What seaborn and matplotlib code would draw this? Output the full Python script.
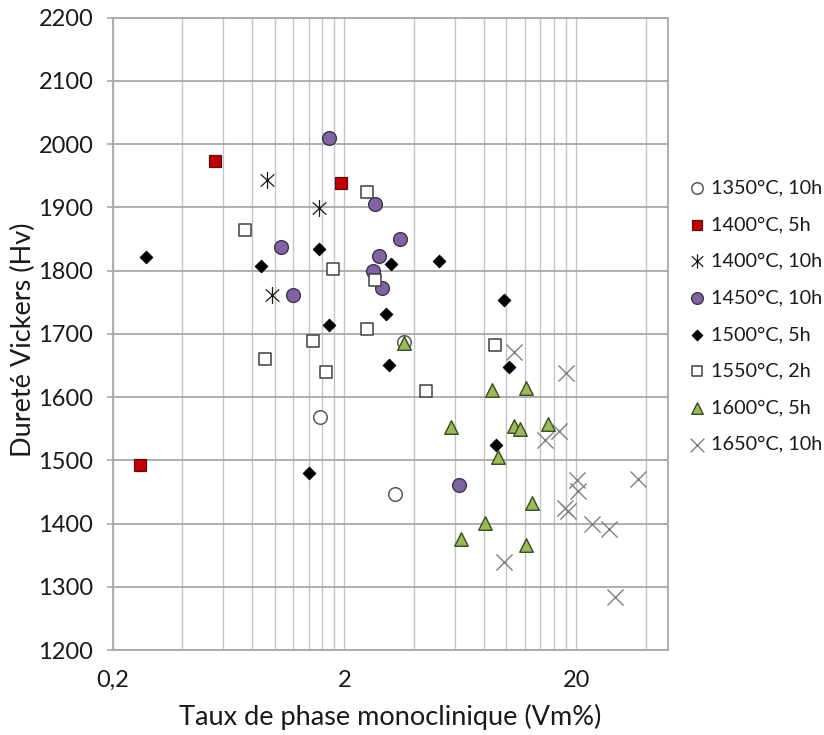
import numpy as np
import pandas as pd
import matplotlib
matplotlib.use("Agg")
import matplotlib.pyplot as plt
from matplotlib.path import Path
from matplotlib.ticker import FixedLocator, NullFormatter
import seaborn as sns

# Vickers hardness (Hv) against monoclinic phase content (Vm%), by sintering condition
x_1350_10h = [1.575, 3.30, 3.63]
y_1350_10h = [1569, 1447, 1687]

x_1400_5h = [0.55, 1.93, 0.263]
y_1400_5h = [1974, 1939, 1492]

x_1400_10h = [0.923, 1.56, 0.977]
y_1400_10h = [1943, 1899, 1761]

x_1450_10h = [1.72, 2.72, 3.46, 1.07, 2.81, 2.66, 2.91, 1.20, 6.22]
y_1450_10h = [2010, 1906, 1850, 1837, 1823, 1799, 1772, 1762, 1461]

x_1500_5h = [0.279, 0.869, 1.55, 3.17, 5.10, 1.71, 3.02, 3.12, 1.40, 9.74, 10.23, 9.02]
y_1500_5h = [1821, 1807, 1835, 1811, 1816, 1714, 1732, 1651, 1480, 1753, 1648, 1524]

x_1550_2h = [0.744, 2.50, 1.79, 2.70, 2.51, 1.46, 0.906, 1.66, 4.51, 8.93]
y_1550_2h = [1864, 1925, 1802, 1785, 1708, 1688, 1660, 1639, 1610, 1683]

x_1600_5h = [3.63, 5.76, 8.67, 12.16, 10.79, 11.46, 15.19, 9.17, 12.9, 8.09, 6.35, 12.16]
y_1600_5h = [1685, 1552, 1611, 1614, 1555, 1550, 1558, 1506, 1432, 1401, 1376, 1366]

x_1650_10h = [10.79, 18.1, 16.89, 14.69, 20.1, 20.3, 37.1, 17.96, 18.4, 23.5, 27.8, 9.74, 29.5]
y_1650_10h = [1671, 1638, 1547, 1532, 1469, 1452, 1470, 1425, 1420, 1400, 1391, 1340, 1284]

series_labels = ["1350°C, 10h", "1400°C, 5h", "1400°C, 10h", "1450°C, 10h",
                 "1500°C, 5h", "1550°C, 2h", "1600°C, 5h", "1650°C, 10h"]
series_x = [x_1350_10h, x_1400_5h, x_1400_10h, x_1450_10h,
            x_1500_5h, x_1550_2h, x_1600_5h, x_1650_10h]
series_y = [y_1350_10h, y_1400_5h, y_1400_10h, y_1450_10h,
            y_1500_5h, y_1550_2h, y_1600_5h, y_1650_10h]

x_tick_values = [0.2, 2, 20]
x_tick_labels = ["0,2", "2", "20"]
y_tick_values = list(range(1200, 2201, 100))

df = pd.concat(
    [pd.DataFrame({"Vm": xs, "Hv": ys, "condition": lab})
     for lab, xs, ys in zip(series_labels, series_x, series_y)],
    ignore_index=True,
)

# six-armed asterisk: vertical stroke plus a diagonal cross
asterisk = Path(
    [(0, -1), (0, 1), (-0.8, -0.72), (0.8, 0.72), (-0.8, 0.72), (0.8, -0.72)],
    [Path.MOVETO, Path.LINETO] * 3,
)

styles = {
    "1350°C, 10h": dict(marker="o", s=95, color="white", edgecolor="#595959", linewidth=1.1),
    "1400°C, 5h": dict(marker="s", s=80, color="#c00000", edgecolor="#5a1010", linewidth=0.9),
    "1400°C, 10h": dict(marker=asterisk, s=150, color="#1a1a1a", edgecolor="#1a1a1a", linewidth=0.9),
    "1450°C, 10h": dict(marker="o", s=98, color="#8064a2", edgecolor="#3f3151", linewidth=1.0),
    "1500°C, 5h": dict(marker="D", s=40, color="black", edgecolor="black", linewidth=0.8),
    "1550°C, 2h": dict(marker="s", s=82, color="white", edgecolor="#404040", linewidth=1.1),
    "1600°C, 5h": dict(marker="^", s=95, color="#9bbb59", edgecolor="#3b4a1f", linewidth=1.0),
    "1650°C, 10h": dict(marker="x", s=135, color="#808080", edgecolor="#808080", linewidth=1.0),
}

sns.set_theme(style="white")
plt.rcParams["font.family"] = ["Lato", "DejaVu Sans"]

fig = plt.figure(figsize=(8.24, 7.35), dpi=100)
ax = fig.add_axes([0.1368, 0.1156, 0.6743, 0.8603])

for lab in series_labels:
    sub = df[df["condition"] == lab]
    sns.scatterplot(data=sub, x="Vm", y="Hv", ax=ax, label=lab, zorder=3, **styles[lab])

ax.set_xscale("log")
ax.set_xlim(0.2, 50)
ax.set_ylim(1200, 2200)

# vertical grid at every 0.2-multiple within each decade
minor_pos = [m * 0.2 * 10 ** d for d in range(0, 3) for m in range(1, 10)]
minor_pos = [v for v in minor_pos if 0.2 < v < 50 and v not in x_tick_values]
ax.xaxis.set_major_locator(FixedLocator(x_tick_values))
ax.set_xticklabels(x_tick_labels)
ax.xaxis.set_minor_locator(FixedLocator(minor_pos))
ax.xaxis.set_minor_formatter(NullFormatter())
ax.set_yticks(y_tick_values)

ax.grid(True, which="both", axis="x", color="#c4c4c4", linewidth=1.0, zorder=0)
ax.grid(True, which="major", axis="y", color="#a8a8a8", linewidth=1.3, zorder=0)
ax.set_axisbelow(True)

for sp in ax.spines.values():
    sp.set_color("#a8a8a8")
    sp.set_linewidth(1.3)

ax.tick_params(axis="x", which="both", length=0, pad=14.5, labelsize=17, labelcolor="#1a1a1a")
ax.tick_params(axis="y", which="major", length=4, width=1.2, color="#a8a8a8",
               direction="out", left=True, pad=10, labelsize=17, labelcolor="#1a1a1a")

ax.set_xlabel("Taux de phase monoclinique (Vm%)", fontsize=19.5, color="#1a1a1a")
ax.set_ylabel("Dureté Vickers (Hv)", fontsize=19.5, color="#1a1a1a")
ax.xaxis.set_label_coords(0.5, -0.085)
ax.yaxis.set_label_coords(-0.138, 0.49)

leg = ax.legend(
    loc="center left", bbox_to_anchor=(0.838, 0.570), bbox_transform=fig.transFigure,
    frameon=False, fontsize=14.3, handlelength=0.7, handletextpad=0.35,
    labelspacing=0.99, borderpad=0, borderaxespad=0, markerscale=0.85,
)
for t in leg.get_texts():
    t.set_color("#1a1a1a")

fig.savefig("out.png", dpi=100)
